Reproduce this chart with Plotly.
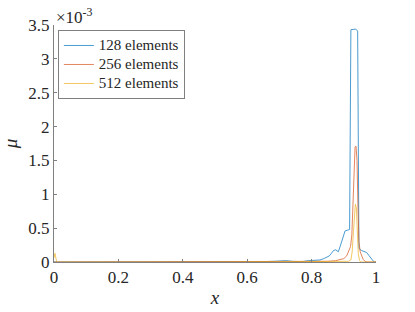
import plotly.graph_objects as go

# values in units of 1e-3
x128 = [0.0, 0.6, 0.65, 0.69, 0.72, 0.74, 0.77, 0.79, 0.81, 0.826, 0.838, 0.847, 0.855, 0.862, 0.868,
        0.875, 0.883, 0.89, 0.897, 0.904, 0.912, 0.918, 0.922, 0.930, 0.937, 0.943, 0.947, 0.955,
        0.963, 0.971, 0.979, 0.986, 0.994, 1.0]
y128 = [0.0, 0.0, 0.005, 0.012, 0.02, 0.01, 0.005, 0.02, 0.03, 0.03, 0.05, 0.07, 0.09, 0.13, 0.17,
        0.18, 0.15, 0.25, 0.34, 0.46, 0.47, 0.48, 3.43, 3.44, 3.44, 3.41, 0.20, 0.17,
        0.16, 0.14, 0.09, 0.04, 0.0, 0.0]

x256 = [0.0, 0.6, 0.7, 0.75, 0.8, 0.85, 0.875, 0.888, 0.9, 0.909, 0.915, 0.921, 0.925, 0.929, 0.932,
        0.935, 0.938, 0.941, 0.944, 0.947, 0.951, 0.956, 0.96, 0.966, 0.972, 1.0]
y256 = [0.0, 0.0, 0.005, 0.01, 0.005, 0.01, 0.02, 0.03, 0.05, 0.09, 0.15, 0.23, 0.4, 1.0, 1.5,
        1.70, 1.71, 1.5, 0.8, 0.3, 0.15, 0.08, 0.04, 0.01, 0.0, 0.0]

x512 = [0.0, 0.003, 0.007, 0.01, 0.5, 0.9, 0.915, 0.922, 0.926, 0.930, 0.933, 0.936, 0.939, 0.942,
        0.945, 0.949, 0.953, 1.0]
y512 = [0.06, 0.13, 0.03, 0.0, 0.0, 0.005, 0.01, 0.03, 0.15, 0.45, 0.75, 0.855, 0.80, 0.45,
        0.12, 0.02, 0.0, 0.0]

names = ["128 elements", "256 elements", "512 elements"]
colors = ["#0072BD", "#D95319", "#EDB120"]

xticks = [0, 0.2, 0.4, 0.6, 0.8, 1]
xticklabels = ["0", "0.2", "0.4", "0.6", "0.8", "1"]
yticks = [0, 0.5, 1, 1.5, 2, 2.5, 3, 3.5]
yticklabels = ["0", "0.5", "1", "1.5", "2", "2.5", "3", "3.5"]

FONT = "Liberation Serif"


def serif(t, size):
    return '<span style="font-size:%dpx;font-family:Liberation Serif">%s</span>' % (size, t)


fig = go.Figure()
for xs, ys, n, c in zip([x128, x256, x512], [y128, y256, y512], names, colors):
    fig.add_trace(go.Scatter(
        x=xs, y=ys, mode="lines", name=serif(n, 15),
        line=dict(color=c, width=1), opacity=0.7))

fig.update_layout(
    width=415, height=312,
    margin=dict(l=54, r=39, t=25, b=50),
    paper_bgcolor="white", plot_bgcolor="white",
    font=dict(family=FONT, size=16, color="#262626"),
    showlegend=True,
    legend=dict(x=0.012, y=0.979, xanchor="left", yanchor="top",
                bordercolor="#808080", borderwidth=1, bgcolor="white",
                font=dict(family=FONT, size=11, color="#262626"),
                itemwidth=30, tracegroupgap=0),
    xaxis=dict(range=[0, 1], tickvals=xticks, ticktext=[serif(t, 17) for t in xticklabels],
               ticks="inside", ticklen=3, tickcolor="#808080",
               showline=True, linecolor="#808080", linewidth=1,
               showgrid=False, zeroline=False, automargin=False,
               tickfont=dict(family=FONT, size=17),
               title=dict(text="<i>" + serif("x", 19) + "</i>", standoff=4,
                          font=dict(family=FONT, size=19))),
    yaxis=dict(range=[0, 3.5], tickvals=yticks, ticktext=[serif(t, 17) for t in yticklabels],
               ticks="inside", ticklen=3, tickcolor="#808080",
               showline=True, linecolor="#808080", linewidth=1,
               showgrid=False, zeroline=False, automargin=False,
               tickfont=dict(family=FONT, size=17),
               title=dict(text="<i>" + serif("μ", 19) + "</i>", standoff=13,
                          font=dict(family=FONT, size=19))),
)

fig.add_annotation(xref="paper", yref="paper", x=0, y=1, xanchor="left", yanchor="bottom",
                   text="×10<sup>-3</sup>", showarrow=False, yshift=-4,
                   font=dict(family=FONT, size=17, color="#262626"))

fig.write_html("out.html", config={"displayModeBar": False},
               post_script="document.body.style.margin='0';")
